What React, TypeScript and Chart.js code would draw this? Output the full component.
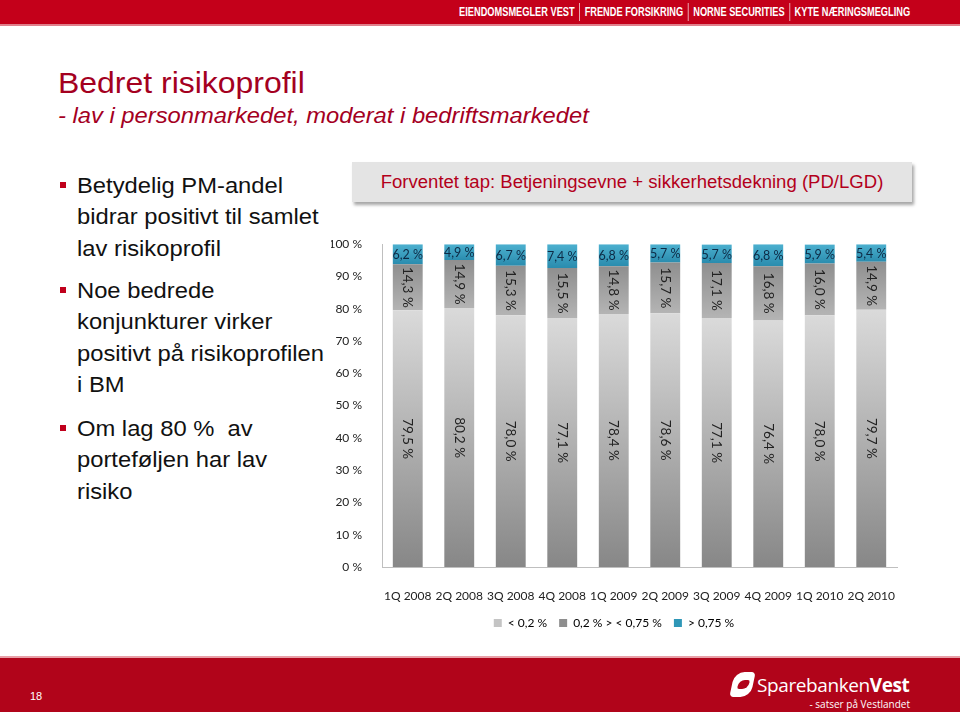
import React, { useEffect, useRef } from "react";
import { Chart, registerables } from "chart.js";

Chart.register(...registerables);

// ---------- data ----------
const categories = ["1Q 2008", "2Q 2008", "3Q 2008", "4Q 2008", "1Q 2009", "2Q 2009", "3Q 2009", "4Q 2009", "1Q 2010", "2Q 2010"];
const lowRisk = [79.5, 80.2, 78.0, 77.1, 78.4, 78.6, 77.1, 76.4, 78.0, 79.7];
const midRisk = [14.3, 14.9, 15.3, 15.5, 14.8, 15.7, 17.1, 16.8, 16.0, 14.9];
const highRisk = [6.2, 4.9, 6.7, 7.4, 6.8, 5.7, 5.7, 6.8, 5.9, 5.4];
const seriesNames = ["< 0,2 %", "0,2 % > < 0,75 %", "> 0,75 %"];
const yTickValues = [0, 10, 20, 30, 40, 50, 60, 70, 80, 90, 100];
const headerLinks = ["EIENDOMSMEGLER VEST", "FRENDE FORSIKRING", "NORNE SECURITIES", "KYTE NÆRINGSMEGLING"];
const bullets = [
  ["Betydelig PM-andel", "bidrar positivt til samlet", "lav risikoprofil"],
  ["Noe bedrede", "konjunkturer virker", "positivt på risikoprofilen", "i BM"],
  ["Om lag 80 %  av", "porteføljen har lav", "risiko"],
];

const legendColors = ["#c4c4c4", "#8e8e8e", "#2f97b7"];

function vGrad(chart: any, topVal: number, bottomVal: number, c1: string, c2: string, fallback: string) {
  const y = chart.scales && chart.scales.y;
  if (!y || !chart.chartArea) return fallback;
  const y1 = y.getPixelForValue(topVal);
  const y2 = y.getPixelForValue(bottomVal);
  if (!isFinite(y1) || !isFinite(y2) || y1 === y2) return fallback;
  const g = chart.ctx.createLinearGradient(0, y1, 0, y2);
  g.addColorStop(0, c1);
  g.addColorStop(1, c2);
  return g;
}

const fmt = (v: number) => v.toFixed(1).replace(".", ",") + " %";

const segLabels = {
  id: "segLabels",
  afterDatasetsDraw(chart: any) {
    const c = chart.ctx;
    chart.data.datasets.forEach((ds: any, di: number) => {
      const meta = chart.getDatasetMeta(di);
      meta.data.forEach((el: any, i: number) => {
        const v = ds.data[i];
        const { x, y, base } = el.getProps(["x", "y", "base"], true);
        const cy = (y + base) / 2;
        c.save();
        c.textAlign = "center";
        c.textBaseline = "middle";
        if (di === 2) {
          c.font = "12.5px Lato";
          c.fillStyle = "#0d2a45";
          c.fillText(fmt(v), x, cy + 1);
        } else {
          c.translate(x, cy);
          c.rotate(Math.PI / 2);
          c.font = "13.5px Lato";
          c.fillStyle = "#222";
          c.fillText(fmt(v), 0, 0);
        }
        c.restore();
      });
    });
  },
};

function BarChart() {
  const ref = useRef<HTMLCanvasElement>(null);
  useEffect(() => {
    if (!ref.current) return;
    Chart.defaults.font.family = "Lato";
    const chart = new Chart(ref.current, {
      type: "bar",
      data: {
        labels: categories,
        datasets: [
          {
            label: seriesNames[0],
            data: lowRisk,
            backgroundColor: (ctx: any) =>
              ctx.type !== "data" ? legendColors[0] : vGrad(ctx.chart, lowRisk[ctx.dataIndex], 0, "#dadada", "#878787", legendColors[0]),
          },
          {
            label: seriesNames[1],
            data: midRisk,
            backgroundColor: (ctx: any) =>
              ctx.type !== "data"
                ? legendColors[1]
                : vGrad(ctx.chart, lowRisk[ctx.dataIndex] + midRisk[ctx.dataIndex], lowRisk[ctx.dataIndex], "#8f8f8f", "#b4b4b4", legendColors[1]),
          },
          {
            label: seriesNames[2],
            data: highRisk,
            backgroundColor: (ctx: any) =>
              ctx.type !== "data"
                ? legendColors[2]
                : vGrad(ctx.chart, 100, lowRisk[ctx.dataIndex] + midRisk[ctx.dataIndex], "#4cb0cf", "#2a8cae", legendColors[2]),
          },
        ],
      },
      options: {
        animation: false,
        responsive: false,
        maintainAspectRatio: false,
        datasets: { bar: { categoryPercentage: 1, barPercentage: 0.58, borderWidth: 0 } },
        layout: { padding: { top: 18, right: 33, left: 11, bottom: 0 } },
        plugins: {
          tooltip: { enabled: false },
          legend: {
            position: "bottom",
            labels: {
              boxWidth: 8,
              boxHeight: 8,
              padding: 12,
              color: "#222",
              font: { size: 12, family: "Lato" },
              generateLabels: () =>
                seriesNames.map((n, i) => ({
                  text: n,
                  fillStyle: legendColors[i],
                  strokeStyle: legendColors[i],
                  lineWidth: 0,
                  hidden: false,
                  datasetIndex: i,
                })),
            },
          },
        },
        scales: {
          x: {
            stacked: true,
            grid: { display: false },
            border: { display: true, color: "#bfbfbf", width: 1 },
            ticks: { color: "#222", font: { size: 12 }, padding: 14, maxRotation: 0 },
            afterFit: (s: any) => {
              s.height = 38;
            },
          },
          y: {
            stacked: true,
            min: 0,
            max: 100,
            grid: { display: false },
            border: { display: true, color: "#bfbfbf", width: 1 },
            afterBuildTicks: (s: any) => {
              s.ticks = yTickValues.map((v) => ({ value: v }));
            },
            ticks: { color: "#222", font: { size: 12 }, padding: 12, callback: (v: any) => v + " %" },
            afterFit: (s: any) => {
              s.width = 51;
            },
          },
        },
      },
      plugins: [segLabels],
    } as any);
    return () => chart.destroy();
  }, []);
  return <canvas ref={ref} width={610} height={414} style={{ position: "absolute", left: 320, top: 225, width: 610, height: 414 }} />;
}

export default function App() {
  const red = "#c4001a";
  return (
    <div style={{ position: "absolute", left: 0, top: 0, width: 960, height: 712, overflow: "hidden", background: "#fff", fontFamily: "'Liberation Sans', Arial, sans-serif" }}>
      {/* header band */}
      <div style={{ position: "absolute", left: 0, top: 0, width: 960, height: 24, background: red, borderBottom: "2px solid #e07f8b" }} />
      <div
        style={{
          position: "absolute",
          right: 45,
          top: 3,
          height: 18,
          display: "flex",
          alignItems: "center",
          color: "#fff",
          fontWeight: 700,
          fontSize: 12,
          transform: "scaleX(0.77)",
          transformOrigin: "right center",
          whiteSpace: "nowrap",
        }}
      >
        {headerLinks.map((t, i) => (
          <span key={t} style={{ padding: "0 6px", borderLeft: i === 0 ? "none" : "1px solid rgba(255,255,255,0.85)", lineHeight: "18px" }}>
            {t}
          </span>
        ))}
      </div>

      {/* title */}
      <div style={{ position: "absolute", left: 58, top: 68, fontSize: 30, lineHeight: "30px", color: "#a4001f", whiteSpace: "nowrap", transform: "scaleX(1.065)", transformOrigin: "left center" }}>
        Bedret risikoprofil
      </div>
      <div
        style={{
          position: "absolute",
          left: 58,
          top: 105,
          fontSize: 22,
          lineHeight: "22px",
          color: "#a4001f",
          fontStyle: "italic",
          whiteSpace: "nowrap",
          transform: "scaleX(1.08)",
          transformOrigin: "left center",
        }}
      >
        - lav i personmarkedet, moderat i bedriftsmarkedet
      </div>

      {/* bullets */}
      {bullets.map((lines, bi) => (
        <div key={bi} style={{ position: "absolute", left: 77, top: [170, 275, 413][bi], fontSize: 22, lineHeight: "31.3px", color: "#111" }}>
          <div style={{ position: "absolute", left: -17, top: 12, width: 6, height: 6, background: "#c0001c" }} />
          {lines.map((l, li) => (
            <div key={li} style={{ whiteSpace: "pre", transform: "scaleX(1.08)", transformOrigin: "left center" }}>
              {l}
            </div>
          ))}
        </div>
      ))}

      {/* chart title box */}
      <div
        style={{
          position: "absolute",
          left: 352,
          top: 162,
          width: 560,
          height: 40,
          background: "#e4e4e4",
          boxShadow: "2px 3px 3px rgba(0,0,0,0.35)",
        }}
      >
        <div
          style={{
            color: "#b3001b",
            fontSize: 17.5,
            lineHeight: "40px",
            textAlign: "center",
            whiteSpace: "nowrap",
            transform: "scaleX(1.06)",
            transformOrigin: "center center",
          }}
        >
          Forventet tap: Betjeningsevne + sikkerhetsdekning (PD/LGD)
        </div>
      </div>

      <BarChart />

      {/* footer band */}
      <div style={{ position: "absolute", left: 0, top: 656, width: 960, height: 56, background: "#b1041a", borderTop: "2px solid #e8a0a8" }} />
      <div style={{ position: "absolute", left: 30, top: 690, color: "#fff", fontSize: 11 }}>18</div>
      <div
        style={{
          position: "absolute",
          left: 732,
          top: 672,
          width: 21,
          height: 25,
          background: "#fff",
          borderRadius: "10px 4px 10px 4px",
          transform: "skewX(-12deg)",
        }}
      />
      <div style={{ position: "absolute", left: 738, top: 680, width: 11, height: 9, background: "#b1041a", borderRadius: "6px 2px 6px 2px", transform: "skewX(-12deg)" }} />
      <div style={{ position: "absolute", left: 757, top: 673, color: "#fff", fontFamily: "'Open Sans', sans-serif", fontSize: 19, lineHeight: "24px", letterSpacing: -0.4, whiteSpace: "nowrap" }}>
        <span style={{ fontWeight: 500 }}>Sparebanken</span>
        <span style={{ fontWeight: 700 }}>Vest</span>
      </div>
      <div style={{ position: "absolute", right: 50, top: 697, color: "#fff", fontFamily: "'Open Sans', sans-serif", fontSize: 10, whiteSpace: "nowrap" }}>- satser på Vestlandet</div>
    </div>
  );
}
